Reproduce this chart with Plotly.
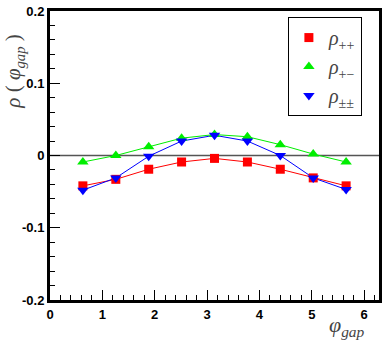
import numpy as np
import plotly.graph_objects as go

# phi_gap bin centres (9 bins over 0..2pi)
phi = [0.628, 1.257, 1.885, 2.513, 3.142, 3.770, 4.398, 5.027, 5.655]

rho_pp = [-0.042, -0.033, -0.019, -0.009, -0.004, -0.009, -0.019, -0.031, -0.042]
rho_pm = [-0.009, 0.000, 0.012, 0.024, 0.029, 0.026, 0.015, 0.002, -0.009]
rho_aa = [-0.048, -0.031, -0.001, 0.020, 0.028, 0.020, 0.000, -0.031, -0.047]

names = ["<i>ρ</i><sub>++</sub>", "<i>ρ</i><sub>+−</sub>", "<i>ρ</i><sub>±±</sub>"]
colors = ["#ff0000", "#00ee00", "#0000ff"]
symbols = ["square", "triangle-up", "triangle-down"]
sizes = [9, 10, 10]

ytickvals = [-0.2, -0.1, 0, 0.1, 0.2]
yticktext = ["-0.2", "-0.1", "0", "0.1", "0.2"]
xtickvals = [0, 1, 2, 3, 4, 5, 6]

fig = go.Figure()

# zero line
fig.add_trace(go.Scatter(x=[0, 2 * np.pi], y=[0, 0], mode="lines",
                         line=dict(color="#555555", width=1.5),
                         showlegend=False, hoverinfo="skip"))

series = [rho_pp, rho_pm, rho_aa]
for ys, c in zip(series, colors):
    fig.add_trace(go.Scatter(x=phi, y=ys, mode="lines",
                             line=dict(color=c, width=1),
                             showlegend=False))
for ys, n, c, s, sz in zip(series, names, colors, symbols, sizes):
    fig.add_trace(go.Scatter(x=phi, y=ys, mode="markers", name=n,
                             marker=dict(color=c, symbol=s, size=sz, line=dict(width=0))))

tickfont = dict(family="Liberation Sans Narrow, Arial Narrow, Liberation Sans", size=13,
                color="black", weight="bold")

fig.update_xaxes(range=[0, 2 * np.pi], tickvals=xtickvals, ticks="inside", ticklen=10,
                 tickwidth=1, tickcolor="black", showline=True, linewidth=3, linecolor="black",
                 mirror=True, showgrid=False, zeroline=False, tickfont=tickfont, automargin=False,
                 minor=dict(ticks="inside", ticklen=5, dtick=0.2, tick0=0, tickcolor="black", showgrid=False))
fig.update_yaxes(range=[-0.2, 0.2], tickvals=ytickvals, ticktext=yticktext, ticks="inside", ticklen=10,
                 tickwidth=1, tickcolor="black", showline=True, linewidth=3, linecolor="black",
                 mirror=True, showgrid=False, zeroline=False, tickfont=tickfont, automargin=False,
                 minor=dict(ticks="inside", ticklen=5, dtick=0.02, tick0=0, tickcolor="black", showgrid=False))

fig.add_annotation(text="<i>ρ</i> ( <i>φ</i><sub><i>gap</i></sub> )", xref="paper", yref="paper",
                   x=0, xshift=-36, y=0.79, xanchor="center", yanchor="middle", textangle=-90,
                   showarrow=False, font=dict(family="Liberation Serif", size=21, color="#444444"))
fig.add_annotation(text="<i>φ</i><sub><i>gap</i></sub>", xref="paper", yref="paper",
                   x=0.903, y=-0.09, xanchor="center", yanchor="middle",
                   showarrow=False, font=dict(family="Liberation Serif", size=22, color="#444444"))

fig.update_layout(
    width=392, height=354,
    margin=dict(l=50, r=13, t=11, b=54),
    plot_bgcolor="white", paper_bgcolor="white",
    legend=dict(x=0.948, y=0.979, xanchor="right", yanchor="top",
                bgcolor="white", bordercolor="black", borderwidth=1,
                font=dict(family="Liberation Serif", size=20, color="#444444"),
                itemwidth=30),
)

fig.write_html("out.html", config={"displayModeBar": False},
               post_script="document.body.style.margin='0';")
